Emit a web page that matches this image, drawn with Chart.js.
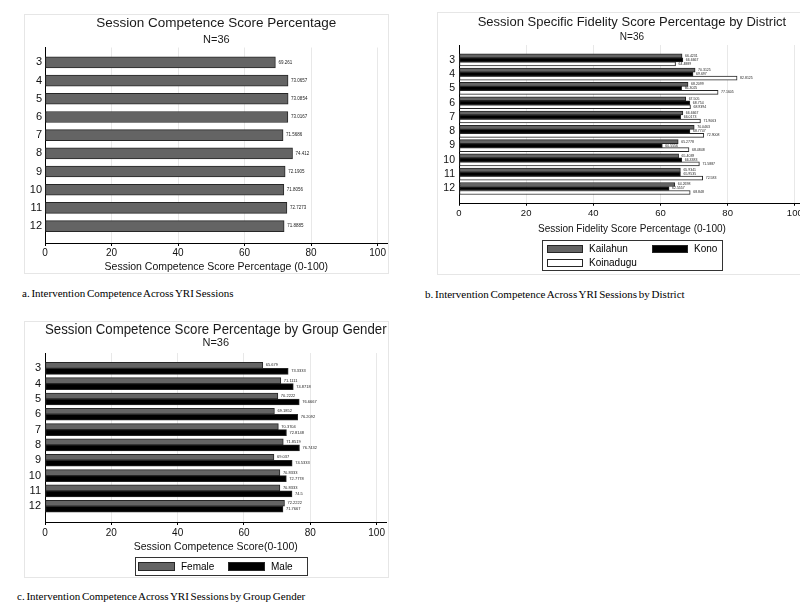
<!DOCTYPE html>
<html>
<head>
<meta charset="utf-8">
<script src="https://cdn.jsdelivr.net/npm/chart.js@4.4.0/dist/chart.umd.min.js"></script>
<style>
  body { margin: 0; background: #fff; width: 800px; height: 606px; overflow: hidden; position: relative; }
  .panel { position: absolute; outline: 1px solid #e6e6e6; background: #fff; }
  .panel canvas { position: absolute; left: 0; top: 0; }
  .caption { position: absolute; font-family: "Liberation Serif", "Times New Roman", serif; font-size: 11px; line-height: 12px; color: #000; white-space: nowrap; word-spacing: -1px; }
</style>
</head>
<body>
<div class="panel" style="left:25px;top:15px;width:363px;height:258px"><canvas id="chartA" width="363" height="258"></canvas></div>
<div class="panel" style="left:438px;top:13px;width:368px;height:261px"><canvas id="chartB" width="368" height="261"></canvas></div>
<div class="panel" style="left:25px;top:322px;width:363px;height:255px"><canvas id="chartC" width="363" height="255"></canvas></div>
<div class="caption" style="left:22px;top:287px">a. Intervention Competence Across YRI Sessions</div>
<div class="caption" style="left:425px;top:288px">b. Intervention Competence Across YRI Sessions by District</div>
<div class="caption" style="left:17px;top:590px">c. Intervention Competence Across YRI Sessions by Group Gender</div>
<script>
// sessions on the y axis, percentages on the x axis
const sessions = [3, 4, 5, 6, 7, 8, 9, 10, 11, 12];
const xTickValues = [0, 20, 40, 60, 80, 100];

const overall = [69.261, 73.0657, 73.0854, 73.0167, 71.5686, 74.412, 72.1905, 71.8056, 72.7273, 71.8885];

const kailahun = [66.4231, 70.3125, 68.2099, 67.505, 66.6667, 70.0463, 65.2778, 65.4039, 65.9341, 64.2698];
const kono = [66.6667, 69.697, 66.3025, 68.754, 66.0173, 68.7747, 60.5556, 66.3383, 65.9535, 62.5557];
const koinadugu = [64.4889, 82.8125, 77.1605, 68.9394, 71.9063, 72.9008, 68.4848, 71.5887, 72.583, 68.848];

const female = [65.679, 71.1111, 70.2222, 69.1852, 70.3704, 71.8519, 69.037, 70.8333, 70.8333, 72.2222];
const male = [73.3333, 74.8718, 76.6667, 76.2092, 72.8148, 76.7432, 74.5333, 72.7778, 74.5, 71.7667];

const FONT = '"Liberation Sans", Arial, sans-serif';
const GRAY = '#646464';
const EDGE = '#262626';

Chart.defaults.font.family = FONT;
Chart.defaults.color = '#111';

const toPoints = vals => vals.map((v, i) => ({x: v, y: sessions[i]}));

// little numbers printed at the end of each bar
const valueLabels = {
  id: 'valueLabels',
  afterDatasetsDraw(chart, args, opts) {
    const ctx = chart.ctx;
    ctx.save();
    ctx.font = opts.size + 'px ' + FONT;
    ctx.fillStyle = '#222';
    ctx.textBaseline = 'middle';
    chart.data.datasets.forEach((ds, i) => {
      chart.getDatasetMeta(i).data.forEach((bar, j) => {
        ctx.fillText(String(ds.data[j].x), bar.x + opts.gap, bar.y);
      });
    });
    ctx.restore();
  }
};

// stata style legend: framed box, swatches laid out in columns
const boxLegend = {
  id: 'boxLegend',
  afterDraw(chart, args, opts) {
    if (!opts.items) return;
    const ctx = chart.ctx;
    const b = opts.box;
    ctx.save();
    ctx.lineWidth = 1;
    ctx.strokeStyle = '#333';
    ctx.strokeRect(b.x + 0.5, b.y + 0.5, b.w, b.h);
    ctx.font = opts.size + 'px ' + FONT;
    ctx.textBaseline = 'middle';
    opts.items.forEach(it => {
      const ds = chart.data.datasets[it.index];
      ctx.fillStyle = ds.backgroundColor;
      ctx.fillRect(it.x, it.y, opts.swatchW, opts.swatchH);
      ctx.strokeStyle = EDGE;
      ctx.strokeRect(it.x + 0.5, it.y + 0.5, opts.swatchW - 1, opts.swatchH - 1);
      ctx.fillStyle = '#000';
      ctx.fillText(ds.label, it.x + opts.swatchW + 6, it.y + opts.swatchH / 2 + 0.5);
    });
    ctx.restore();
  }
};

const barChart = (id, o) => new Chart(document.getElementById(id), {
  type: 'bar',
  data: {
    datasets: o.series.map(s => ({
      label: s.label,
      data: toPoints(s.values),
      backgroundColor: s.fill,
      borderColor: EDGE,
      borderWidth: 1,
      borderSkipped: false,
      barThickness: o.barThickness
    }))
  },
  plugins: [valueLabels, boxLegend],
  options: {
    indexAxis: 'y',
    responsive: false,
    animation: false,
    layout: {padding: {left: 0, right: 0, top: 0, bottom: o.padBottom}},
    plugins: {
      legend: {display: false},
      tooltip: {enabled: false},
      title: {
        display: true, text: o.title, fullSize: false, color: '#1a1a1a',
        font: {size: o.titleSize, weight: 'normal', lineHeight: 1},
        padding: o.titlePad
      },
      subtitle: {
        display: true, text: 'N=36', fullSize: false, color: '#1a1a1a',
        font: {size: o.subSize, lineHeight: 1},
        padding: o.subPad
      },
      valueLabels: {size: o.labelSize, gap: 3},
      boxLegend: o.legend || {}
    },
    scales: {
      x: {
        type: 'linear', min: 0, max: 103,
        afterBuildTicks: s => { s.ticks = xTickValues.map(v => ({value: v})); },
        grid: {color: '#e8e8e8', tickColor: '#000', tickLength: o.tickLen},
        border: {color: '#000', width: 1},
        ticks: {font: {size: o.xTickSize, lineHeight: 1}, padding: o.xTickPad, color: '#111', maxRotation: 0},
        title: {
          display: true, text: o.xTitle, color: '#111',
          font: {size: o.xTitleSize, lineHeight: 1},
          padding: o.xTitlePad
        }
      },
      y: {
        type: 'linear', reverse: true, offset: false, min: o.yMin, max: o.yMax,
        afterBuildTicks: s => { s.ticks = sessions.map(v => ({value: v})); },
        afterFit: s => { s.width = o.yWidth; },
        grid: {display: false, drawTicks: false, offset: false},
        border: {color: '#000', width: 1},
        ticks: {font: {size: o.yTickSize, lineHeight: 1}, padding: o.yTickPad, color: '#111'}
      }
    }
  }
});

barChart('chartA', {
  title: 'Session Competence Score Percentage',
  titleSize: 13.5, titlePad: {top: 2, bottom: 2},
  subSize: 11, subPad: {top: 1.5, bottom: 2.5},
  series: [{label: 'Overall', values: overall, fill: GRAY}],
  barThickness: 11, labelSize: 4.5,
  yMin: 2.18, yMax: 12.93, yWidth: 20, yTickSize: 11, yTickPad: 3,
  tickLen: 3, xTickSize: 10, xTickPad: 2,
  xTitle: 'Session Competence Score Percentage (0-100)', xTitleSize: 10.5, xTitlePad: {top: 1.75, bottom: 0.75},
  padBottom: 0
});

barChart('chartB', {
  title: 'Session Specific Fidelity Score Percentage by District',
  titleSize: 13, titlePad: {top: 2.5, bottom: 2},
  subSize: 10, subPad: {top: 1.5, bottom: 3},
  series: [
    {label: 'Kailahun', values: kailahun, fill: GRAY},
    {label: 'Kono', values: kono, fill: '#000'},
    {label: 'Koinadugu', values: koinadugu, fill: '#fff'}
  ],
  barThickness: 4, labelSize: 3.5,
  yMin: 1.96, yMax: 13.07, yWidth: 21, yTickSize: 10.5, yTickPad: 4,
  tickLen: 2, xTickSize: 9.5, xTickPad: 3.25,
  xTitle: 'Session Fidelity Score Percentage (0-100)', xTitleSize: 10, xTitlePad: {top: 2.25, bottom: 1},
  padBottom: 39,
  legend: {
    box: {x: 104, y: 227, w: 180, h: 30},
    size: 10, swatchW: 36, swatchH: 8,
    items: [
      {index: 0, x: 109, y: 232},
      {index: 1, x: 214, y: 232},
      {index: 2, x: 109, y: 246}
    ]
  }
});

barChart('chartC', {
  title: 'Session Competence Score Percentage by Group Gender',
  titleSize: 14, titlePad: {top: 1, bottom: 0},
  subSize: 11, subPad: {top: 0.5, bottom: 4.5},
  series: [
    {label: 'Female', values: female, fill: GRAY},
    {label: 'Male', values: male, fill: '#000'}
  ],
  barThickness: 6, labelSize: 4,
  yMin: 2, yMax: 13.03, yWidth: 20, yTickSize: 11, yTickPad: 4,
  tickLen: 3, xTickSize: 10, xTickPad: 3,
  xTitle: 'Session Competence Score(0-100)', xTitleSize: 10.5, xTitlePad: {top: 0.75, bottom: 1},
  padBottom: 23.75,
  legend: {
    box: {x: 110, y: 235, w: 172, h: 18},
    size: 10, swatchW: 37, swatchH: 9,
    items: [
      {index: 0, x: 113, y: 240},
      {index: 1, x: 203, y: 240}
    ]
  }
});
</script>
</body>
</html>
